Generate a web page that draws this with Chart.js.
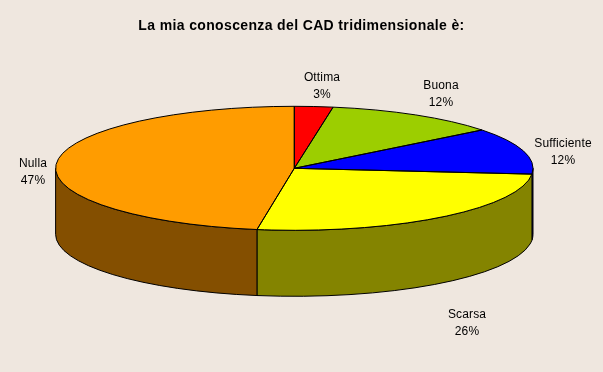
<!DOCTYPE html>
<html>
<head>
<meta charset="utf-8">
<title>La mia conoscenza del CAD tridimensionale</title>
<script src="https://cdn.jsdelivr.net/npm/chart.js@4"></script>
<style>
  html, body { margin: 0; padding: 0; background: #efe7df; }
  canvas { display: block; }
</style>
</head>
<body>
<canvas id="pie3d" width="603" height="372"></canvas>
<script>
const categories = ["Ottima", "Buona", "Sufficiente", "Scarsa", "Nulla"];
const shares = [2.6, 11.8, 12.1, 26, 47.5];
const shareLabels = ["3%", "12%", "12%", "26%", "47%"];

const topColors = ["#ff0000", "#9cce00", "#0000ff", "#ffff00", "#ff9c00"];
const sideColors = ["#840000", "#526b00", "#000084", "#848400", "#844f00"];

// where the flattened pie sits on the page
const view = { cx: 294.3, cy: 168.3, rx: 238.7, ry: 62, depth: 66 };
// label centres, first line / second line is lineGap below
const labelPos = [[322, 78], [441, 86], [563, 144], [467, 315], [33, 164]];
const lineGap = 16.5;

function frontRange(start, end) {
  // part of a slice that lies on the near half of the ellipse
  const a = Math.max(start, 0);
  const b = Math.min(end, Math.PI);
  return a < b ? [a, b] : null;
}

const pie3d = {
  id: "pie3d",
  beforeDraw(chart) {
    // the title runs wider than plain 14px bold
    chart.ctx.letterSpacing = "0.36px";
  },
  beforeDatasetDraw(chart, args) {
    const ctx = chart.ctx;
    const arcs = chart.getDatasetMeta(args.index).data;
    const { cx, cy, rx, ry, depth } = view;
    ctx.lineWidth = 1;
    ctx.strokeStyle = "#000";

    // side wall
    arcs.forEach((arc, i) => {
      const range = frontRange(arc.startAngle, arc.endAngle);
      if (!range) return;
      ctx.beginPath();
      ctx.ellipse(cx, cy, rx, ry, 0, range[0], range[1]);
      ctx.ellipse(cx, cy + depth, rx, ry, 0, range[1], range[0], true);
      ctx.closePath();
      ctx.fillStyle = sideColors[i];
      ctx.fill();
      ctx.stroke();
    });

    // top face, the arcs themselves squashed into the ellipse
    arcs.forEach((arc) => {
      const r = arc.outerRadius;
      ctx.save();
      ctx.translate(cx, cy);
      ctx.scale(rx / r, ry / r);
      ctx.translate(-arc.x, -arc.y);
      arc.draw(ctx);
      ctx.restore();
    });
    arcs.forEach((arc) => {
      ctx.beginPath();
      ctx.moveTo(cx, cy);
      ctx.ellipse(cx, cy, rx, ry, 0, arc.startAngle, arc.endAngle);
      ctx.closePath();
      ctx.stroke();
    });

    // slice labels
    ctx.fillStyle = "#000";
    ctx.font = "12px 'Liberation Sans', Arial, sans-serif";
    ctx.letterSpacing = "0.15px";
    ctx.textAlign = "center";
    ctx.textBaseline = "middle";
    categories.forEach((name, i) => {
      const [x, y] = labelPos[i];
      ctx.fillText(name, x, y);
      ctx.fillText(shareLabels[i], x, y + lineGap);
    });
    return false;
  },
};

new Chart(document.getElementById("pie3d"), {
  type: "pie",
  data: {
    labels: categories,
    datasets: [
      {
        data: shares,
        backgroundColor: topColors,
        borderWidth: 0,
      },
    ],
  },
  options: {
    responsive: false,
    animation: false,
    events: [],
    plugins: {
      legend: { display: false },
      tooltip: { enabled: false },
      title: {
        display: true,
        text: "La mia conoscenza del CAD tridimensionale è:",
        color: "#000",
        font: { family: "'Liberation Sans', Arial, sans-serif", size: 14, weight: "bold" },
        padding: { top: 18, bottom: 10 },
      },
    },
  },
  plugins: [pie3d],
});
</script>
</body>
</html>
